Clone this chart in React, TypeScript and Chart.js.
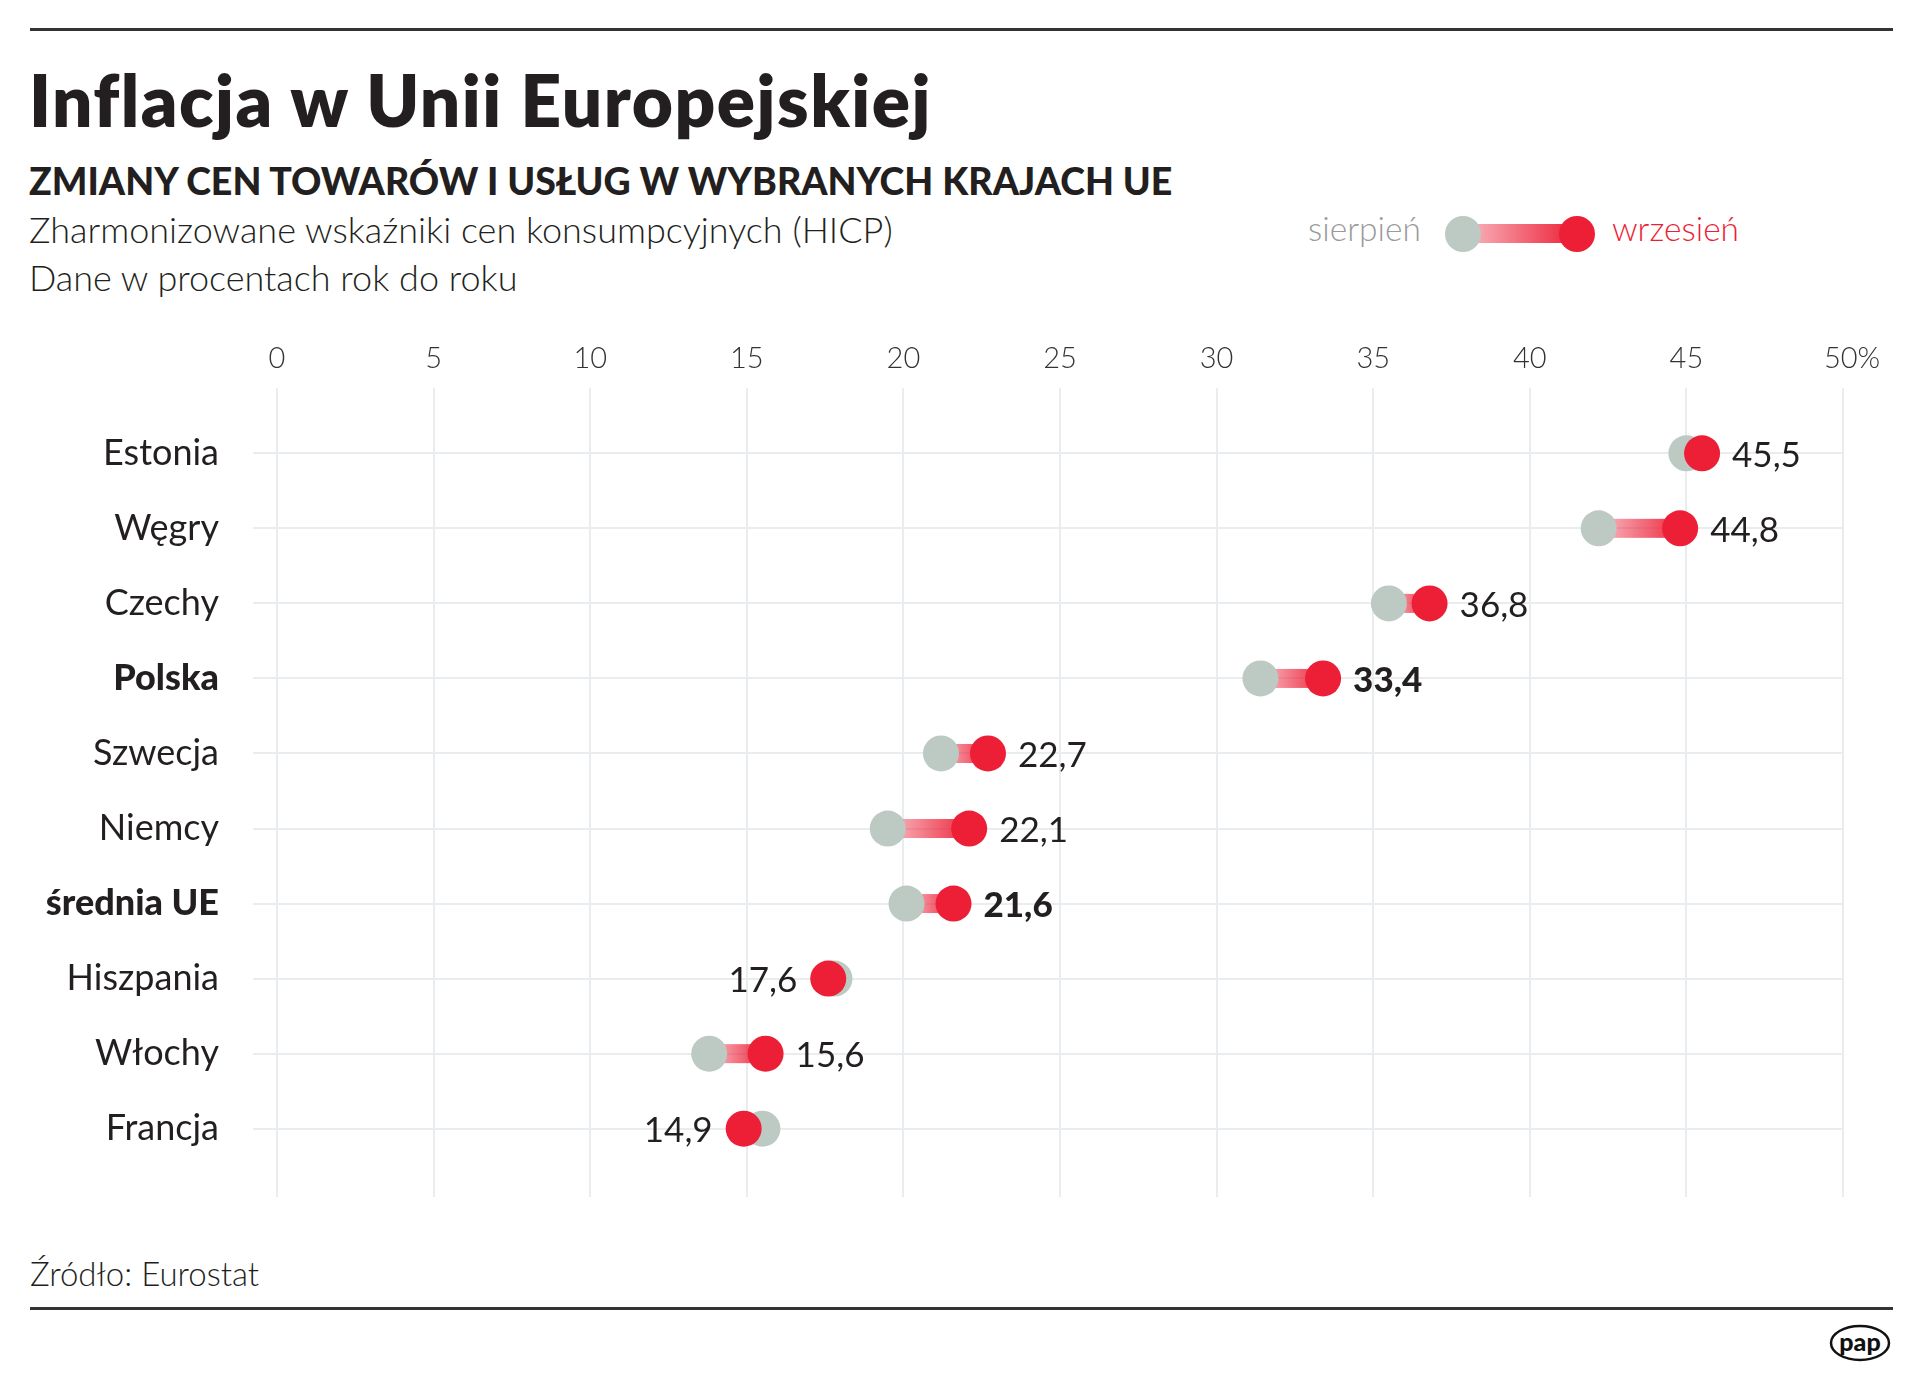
import React, { useEffect, useRef } from 'react';
import { Chart, registerables } from 'chart.js';

Chart.register(...registerables);

const categories = ['Estonia', 'Węgry', 'Czechy', 'Polska', 'Szwecja', 'Niemcy', 'średnia UE', 'Hiszpania', 'Włochy', 'Francja'];
const sierpien = [45.0, 42.2, 35.5, 31.4, 21.2, 19.5, 20.1, 17.8, 13.8, 15.5];
const wrzesien = [45.5, 44.8, 36.8, 33.4, 22.7, 22.1, 21.6, 17.6, 15.6, 14.9];
const boldCategories = ['Polska', 'średnia UE'];
const xTickValues = [0, 5, 10, 15, 20, 25, 30, 35, 40, 45, 50];

const RED = '#ec1f36';
const GREY = '#bccac3';
const GRID = '#e9edf0';
const TEXT = '#231f20';
const FONT = 'Lato, "Open Sans", sans-serif';

const fmt = (v: number) => v.toFixed(1).replace('.', ',');

const connectorPlugin = {
  id: 'connectors',
  beforeDatasetsDraw(chart: any) {
    const { ctx } = chart;
    const x = chart.scales.x;
    const y = chart.scales.y;
    ctx.save();
    categories.forEach((_, i) => {
      const gx = x.getPixelForValue(sierpien[i]);
      const rx = x.getPixelForValue(wrzesien[i]);
      const py = y.getPixelForValue(i);
      if (Math.abs(rx - gx) < 0.5) return;
      const g = ctx.createLinearGradient(gx, 0, rx, 0);
      g.addColorStop(0, 'rgba(236,31,54,0.3)');
      g.addColorStop(1, 'rgba(236,31,54,0.95)');
      ctx.fillStyle = g;
      ctx.fillRect(Math.min(gx, rx), py - 9.5, Math.abs(rx - gx), 19);
    });
    ctx.restore();
  },
  afterDatasetsDraw(chart: any) {
    const { ctx } = chart;
    const x = chart.scales.x;
    const y = chart.scales.y;
    ctx.save();
    ctx.fillStyle = TEXT;
    ctx.textBaseline = 'middle';
    categories.forEach((c, i) => {
      const rx = x.getPixelForValue(wrzesien[i]);
      const py = y.getPixelForValue(i) + 2;
      const bold = boldCategories.includes(c);
      ctx.font = `${bold ? '900' : '400'} 35px ${FONT}`;
      if (wrzesien[i] >= sierpien[i]) {
        ctx.textAlign = 'left';
        ctx.fillText(fmt(wrzesien[i]), rx + 30, py);
      } else {
        ctx.textAlign = 'right';
        ctx.fillText(fmt(wrzesien[i]), rx - 31, py);
      }
    });
    ctx.restore();
  },
};

function DotChart() {
  const ref = useRef<HTMLCanvasElement | null>(null);
  useEffect(() => {
    if (!ref.current) return;
    const chart = new Chart(ref.current, {
      type: 'scatter',
      data: {
        datasets: [
          {
            label: 'wrzesień',
            data: wrzesien.map((v, i) => ({ x: v, y: i })),
            backgroundColor: RED,
            borderWidth: 0,
            pointRadius: 18,
            pointHoverRadius: 18,
            order: 0,
          },
          {
            label: 'sierpień',
            data: sierpien.map((v, i) => ({ x: v, y: i })),
            backgroundColor: GREY,
            borderWidth: 0,
            pointRadius: 18,
            pointHoverRadius: 18,
            order: 1,
          },
        ],
      },
      options: {
        responsive: false,
        animation: false,
        events: [],
        layout: { padding: { left: 0, right: 77, top: 0, bottom: 23 } },
        plugins: { legend: { display: false }, tooltip: { enabled: false } },
        scales: {
          x: {
            type: 'linear',
            position: 'top',
            min: 0,
            max: 50,
            afterBuildTicks: (axis: any) => {
              axis.ticks = xTickValues.map((v) => ({ value: v }));
            },
            afterFit: (s: any) => {
              s.height = 88;
              s.paddingLeft = 0;
              s.paddingRight = 0;
            },
            grid: { color: GRID, lineWidth: 2, drawTicks: false },
            border: { display: false },
            ticks: {
              padding: 12,
              color: '#333',
              autoSkip: false,
              maxRotation: 0,
              font: { family: FONT, size: 29, weight: '300' },
              callback: (v: any) => (v === 50 ? '\u2002\u200950%' : String(v)),
            },
          },
          y: {
            type: 'linear',
            reverse: true,
            min: -0.87,
            max: 9.91,
            afterBuildTicks: (axis: any) => {
              axis.ticks = categories.map((_, i) => ({ value: i }));
            },
            afterFit: (s: any) => {
              s.width = 277;
              s.paddingTop = 0;
              s.paddingBottom = 0;
            },
            grid: { color: GRID, lineWidth: 2, drawTicks: true, tickLength: 24 },
            border: { display: false },
            ticks: {
              padding: 34,
              autoSkip: false,
              color: TEXT,
              font: (ctx: any) => {
                const v = ctx.tick ? ctx.tick.value : ctx.index;
                const bold = boldCategories.includes(categories[v]);
                return { family: FONT, size: 36, weight: bold ? '900' : '400' };
              },
              callback: (v: any) => categories[v] ?? '',
            },
          },
        },
      },
      plugins: [connectorPlugin],
    } as any);
    return () => chart.destroy();
  }, []);
  return (
    <canvas
      ref={ref}
      width={1920}
      height={920}
      style={{ position: 'absolute', left: 0, top: 300, width: 1920, height: 920 }}
    />
  );
}

const abs = (left: number, top: number, extra: React.CSSProperties = {}): React.CSSProperties => ({
  position: 'absolute',
  left,
  top,
  whiteSpace: 'nowrap',
  lineHeight: 1.2,
  fontFamily: FONT,
  color: TEXT,
  ...extra,
});

export default function App() {
  return (
    <div style={{ position: 'absolute', left: 0, top: 0, width: 1920, height: 1380, background: '#fff', overflow: 'hidden' }}>
      <div style={{ position: 'absolute', left: 30, top: 28, width: 1863, height: 3, background: '#333' }} />
      <div style={abs(29, 57, { fontSize: 71, fontWeight: 800, letterSpacing: 1.5 })}>Inflacja w Unii Europejskiej</div>
      <div style={abs(29, 158, { fontSize: 37.5, fontWeight: 900 })}>ZMIANY CEN TOWARÓW I USŁUG W WYBRANYCH KRAJACH UE</div>
      <div style={abs(29, 208, { fontSize: 36, fontWeight: 300 })}>Zharmonizowane wskaźniki cen konsumpcyjnych (HICP)</div>
      <div style={abs(29, 256, { fontSize: 36, fontWeight: 300 })}>Dane w procentach rok do roku</div>

      <div style={abs(1308, 208, { fontSize: 33.5, fontWeight: 300, color: '#9a9a9a' })}>sierpień</div>
      <div
        style={{
          position: 'absolute',
          left: 1463,
          top: 224,
          width: 114,
          height: 19,
          background: 'linear-gradient(to right, rgba(236,31,54,0.3), rgba(236,31,54,1))',
        }}
      />
      <div style={{ position: 'absolute', left: 1445, top: 216, width: 36, height: 36, borderRadius: '50%', background: GREY }} />
      <div style={{ position: 'absolute', left: 1559, top: 216, width: 36, height: 36, borderRadius: '50%', background: RED }} />
      <div style={abs(1612, 208, { fontSize: 33.5, fontWeight: 300, color: RED })}>wrzesień</div>

      <DotChart />

      <div style={abs(30, 1254, { fontSize: 33, fontWeight: 300 })}>Źródło: Eurostat</div>
      <div style={{ position: 'absolute', left: 30, top: 1307, width: 1863, height: 3, background: '#333' }} />
      <svg style={{ position: 'absolute', left: 1829, top: 1324 }} width={62} height={38} viewBox="0 0 62 38">
        <ellipse cx={31} cy={19} rx={29} ry={17} fill="#fff" stroke="#111" strokeWidth={2.5} />
        <text x={31} y={27} textAnchor="middle" fontFamily={FONT} fontWeight={900} fontSize={25} fill="#111">
          pap
        </text>
      </svg>
    </div>
  );
}
